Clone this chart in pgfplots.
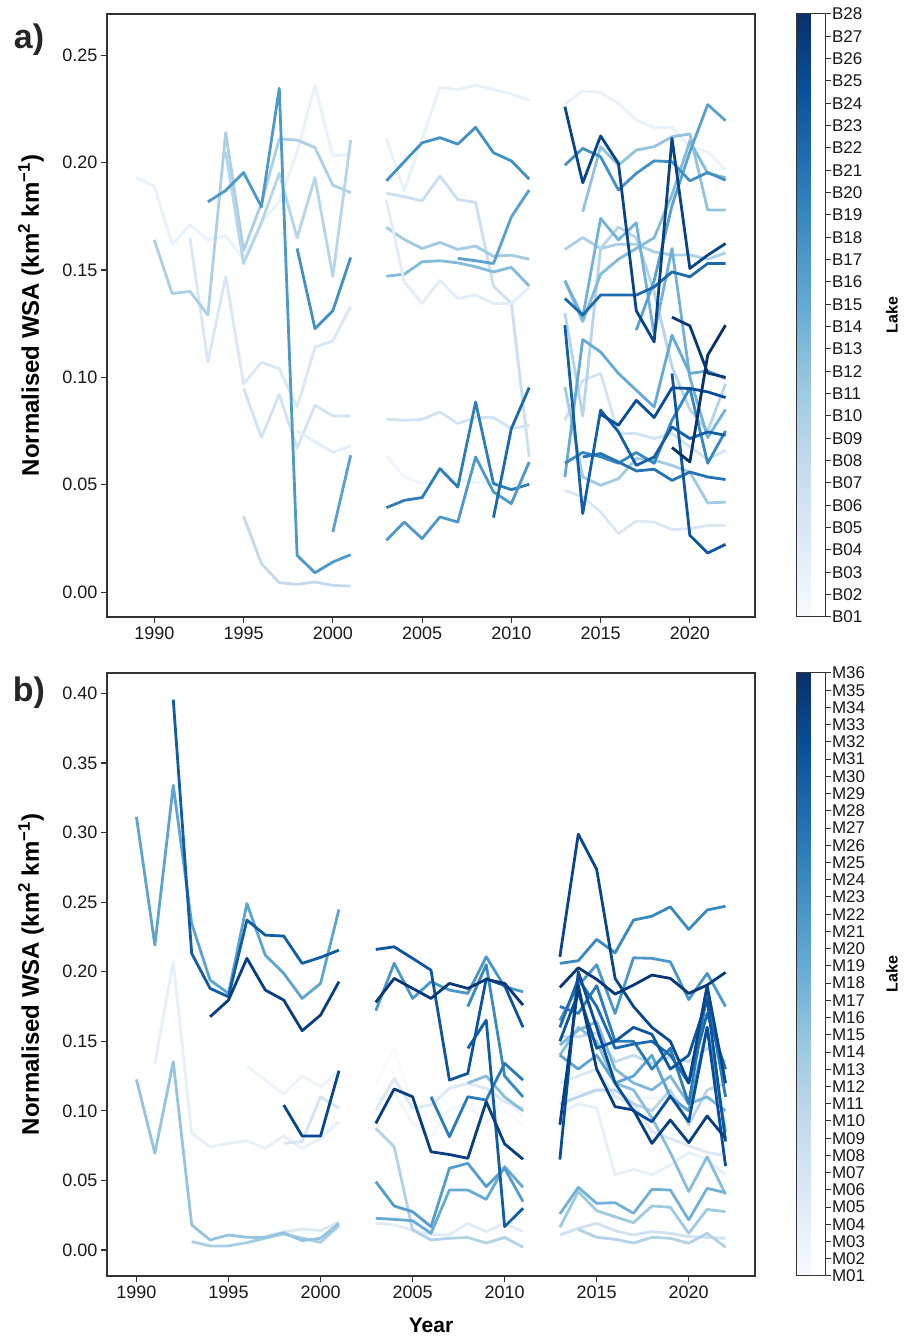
\documentclass[border=0pt]{standalone}
\usepackage{pgfplots}
\pgfplotsset{compat=1.18}
\usepackage{fontspec}
\setmainfont{Liberation Sans}

\pgfplotsset{
  colormap={Blues}{rgb255=(247,251,255) rgb255=(222,235,247) rgb255=(198,219,239)
    rgb255=(158,202,225) rgb255=(107,174,214) rgb255=(66,146,198)
    rgb255=(33,113,181) rgb255=(8,81,156) rgb255=(8,48,107)},
  lk/.style={color of colormap={#1}, solid, mark=none, line join=round},
  wsa/.style={
    scale only axis, width=648pt, height=603pt, anchor=south west,
    every axis plot/.append style={line width=2.8pt},
    axis line style={black!80, line width=1.2pt},
    tick align=outside, tick pos=left, major tick length=6pt,
    every tick/.style={black!80, line width=1.1pt},
    ticklabel style={font=\fontsize{18}{20}\selectfont, text=black!90},
    /pgf/number format/assume math mode=true,
    xtick={1990,1995,...,2020},
    xticklabel style={/pgf/number format/1000 sep={}},
    yticklabel style={/pgf/number format/.cd, fixed, fixed zerofill, precision=2},
    ylabel={\bfseries Normalised WSA (km\textsuperscript{2} km\textsuperscript{−1})},
    every axis y label/.style={at={(rel axis cs:0,0.5)}, xshift=-76pt, rotate=90,
      anchor=center, font=\fontsize{24}{26}\selectfont},
    colorbar,
    colorbar style={
      at={(parent axis.north east)}, anchor=north west, xshift=33pt,
      scale only axis, width=29pt, height=603pt,
      axis line style={black!80, line width=1pt},
      tick align=outside, major tick length=5pt,
      ytick pos=right, yticklabel pos=right, xtick=\empty,
      every tick/.style={black!80, line width=1pt},
      yticklabel style={font=\fontsize{17}{18}\selectfont, text=black!90, xshift=-2pt},
    },
  },
}

\begin{document}
\begin{tikzpicture}
\useasboundingbox (0,0) rectangle (905pt,1340pt);

% ---------------- a) B lakes ----------------
\begin{axis}[wsa, at={(107pt,723pt)},
  xmin=1987.35, xmax=2023.65, ymin=-0.0116, ymax=0.2692,
  ytick={0,0.05,...,0.25},
  point meta min=0, point meta max=27,
  colorbar style={ytick={0,...,27},
    yticklabels={B01,B02,B03,B04,B05,B06,B07,B08,B09,B10,B11,B12,B13,B14,B15,B16,B17,B18,B19,B20,B21,B22,B23,B24,B25,B26,B27,B28}},
]
% 1989-2001
\addplot[lk=74] coordinates {(1989,.193)(1990,.189)(1991,.162)(1992,.171)(1993,.164)(1994,.166)(1995,.155)(1996,.172)(1997,.182)(1998,.205)(1999,.236)(2000,.203)(2001,.204)};
\addplot[lk=148] coordinates {(1992,.165)(1993,.107)(1994,.147)(1995,.097)(1996,.107)(1997,.104)(1998,.086)(1999,.114)(2000,.117)(2001,.133)};
\addplot[lk=185] coordinates {(1995,.095)(1996,.072)(1997,.092)(1998,.067)(1999,.087)(2000,.082)(2001,.082)};
\addplot[lk=111] coordinates {(1998,.075)(1999,.070)(2000,.065)(2001,.068)};
\addplot[lk=333] coordinates {(1990,.164)(1991,.139)(1992,.140)(1993,.129)(1994,.214)(1995,.159)(1996,.181)(1997,.211)(1998,.2105)(1999,.207)(2000,.1895)(2001,.186)};
\addplot[lk=296] coordinates {(1994,.205)(1995,.153)(1996,.172)(1997,.195)(1998,.165)(1999,.193)(2000,.147)(2001,.2105)};
\addplot[lk=259] coordinates {(1995,.0353)(1996,.0132)(1997,.0044)(1998,.0036)(1999,.0047)(2000,.0031)(2001,.0028)};
\addplot[lk=593] coordinates {(1993,.1817)(1994,.187)(1995,.1954)(1996,.1794)(1997,.2346)(1998,.0171)(1999,.009)(2000,.014)(2001,.0174)};
\addplot[lk=630] coordinates {(1998,.16)(1999,.1227)(2000,.131)(2001,.1558)};
\addplot[lk=556] coordinates {(2000,.028)(2001,.0637)};
% 2003-2011
\addplot[lk=74] coordinates {(2003,.211)(2004,.187)(2005,.211)(2006,.235)(2007,.234)(2008,.236)(2009,.234)(2010,.232)(2011,.229)};
\addplot[lk=630] coordinates {(2003,.1915)(2004,.2004)(2005,.2092)(2006,.2116)(2007,.2086)(2008,.2164)(2009,.2046)(2010,.2008)(2011,.1923)};
\addplot[lk=222] coordinates {(2003,.1857)(2004,.1841)(2005,.1822)(2006,.1938)(2007,.1828)(2008,.1815)(2009,.1425)(2010,.1344)(2011,.063)};
\addplot[lk=370] coordinates {(2003,.1698)(2004,.1642)(2005,.16)(2006,.1628)(2007,.1596)(2008,.1611)(2009,.1564)(2010,.1569)(2011,.155)};
\addplot[lk=444] coordinates {(2003,.1471)(2004,.148)(2005,.1538)(2006,.1543)(2007,.1533)(2008,.1515)(2009,.1491)(2010,.1512)(2011,.1425)};
\addplot[lk=556] coordinates {(2007,.1554)(2008,.1543)(2009,.153)(2010,.1747)(2011,.1872)};
\addplot[lk=111] coordinates {(2003,.1825)(2004,.1445)(2005,.1344)(2006,.1452)(2007,.1367)(2008,.1383)(2009,.1344)(2010,.1344)(2011,.1418)};
\addplot[lk=185] coordinates {(2003,.0805)(2004,.08)(2005,.0804)(2006,.0839)(2007,.0785)(2008,.0813)(2009,.0813)(2010,.0761)(2011,.0777)};
\addplot[lk=37] coordinates {(2003,.0637)(2004,.0536)(2005,.0505)(2006,.0545)(2007,.0519)(2008,.051)(2009,.051)(2010,.0495)(2011,.0519)};
\addplot[lk=704] coordinates {(2003,.0393)(2004,.0427)(2005,.044)(2006,.0575)(2007,.0489)(2008,.0885)(2009,.0505)(2010,.0477)(2011,.0502)};
\addplot[lk=593] coordinates {(2003,.0241)(2004,.0326)(2005,.0249)(2006,.035)(2007,.0326)(2008,.0629)(2009,.0466)(2010,.0412)(2011,.0606)};
\addplot[lk=778] coordinates {(2009,.0347)(2010,.0761)(2011,.0952)};
% 2013-2022
\addplot[lk=74] coordinates {(2013,.227)(2014,.2335)(2015,.2325)(2016,.2276)(2017,.2198)(2018,.2164)(2019,.2164)(2020,.2074)(2021,.205)(2022,.1965)};
\addplot[lk=185] coordinates {(2013,.08)(2014,.0986)(2015,.1018)(2016,.0738)(2017,.0738)(2018,.0715)(2019,.0738)(2020,.0676)(2021,.0617)(2022,.066)};
\addplot[lk=148] coordinates {(2013,.0474)(2014,.0443)(2015,.0373)(2016,.0272)(2017,.0331)(2018,.0326)(2019,.0291)(2020,.0295)(2021,.031)(2022,.031)};
\addplot[lk=333] coordinates {(2013,.1596)(2014,.1651)(2015,.16)(2016,.162)(2017,.162)(2018,.1584)(2019,.157)(2020,.157)(2021,.155)(2022,.158)};
\addplot[lk=296] coordinates {(2013,.13)(2014,.082)(2015,.16)(2016,.17)(2017,.165)(2018,.14)(2019,.105)(2020,.085)(2021,.075)(2022,.097)};
\addplot[lk=370] coordinates {(2013,.0955)(2014,.0536)(2015,.0497)(2016,.0528)(2017,.0622)(2018,.0614)(2019,.059)(2020,.0559)(2021,.0415)(2022,.0419)};
\addplot[lk=407] coordinates {(2014,.1771)(2015,.2074)(2016,.1988)(2017,.2058)(2018,.2074)(2019,.212)(2020,.2133)(2021,.1779)(2022,.1779)};
\addplot[lk=444] coordinates {(2013,.145)(2014,.126)(2015,.148)(2016,.155)(2017,.16)(2018,.165)(2019,.185)(2020,.21)(2021,.195)(2022,.193)};
\addplot[lk=481] coordinates {(2013,.145)(2014,.128)(2015,.174)(2016,.164)(2017,.172)(2018,.12)(2019,.16)(2020,.1)(2021,.072)(2022,.085)};
\addplot[lk=519] coordinates {(2013,.0536)(2014,.1176)(2015,.1118)(2016,.1018)(2017,.094)(2018,.0862)(2019,.1196)(2020,.1018)(2021,.103)(2022,.0994)};
\addplot[lk=556] coordinates {(2017,.122)(2018,.145)(2019,.18)(2020,.205)(2021,.227)(2022,.2195)};
\addplot[lk=630] coordinates {(2013,.1988)(2014,.2066)(2015,.2027)(2016,.1872)(2017,.195)(2018,.2008)(2019,.2004)(2020,.1915)(2021,.1954)(2022,.1918)};
\addplot[lk=667] coordinates {(2013,.06)(2014,.065)(2015,.063)(2016,.06)(2017,.065)(2018,.06)(2019,.08)(2020,.095)(2021,.06)(2022,.075)};
\addplot[lk=741] coordinates {(2014,.0629)(2015,.0645)(2016,.0606)(2017,.0564)(2018,.0572)(2019,.052)(2020,.0559)(2021,.0536)(2022,.0524)};
\addplot[lk=778] coordinates {(2013,.1367)(2014,.129)(2015,.1383)(2016,.1383)(2017,.1383)(2018,.1421)(2019,.1491)(2020,.1468)(2021,.153)(2022,.153)};
\addplot[lk=815] coordinates {(2013,.1243)(2014,.0365)(2015,.0847)(2016,.0746)(2017,.059)(2018,.0629)(2019,.0769)(2020,.0715)(2021,.0746)(2022,.073)};
\addplot[lk=852] coordinates {(2019,.1018)(2020,.0264)(2021,.0182)(2022,.0222)};
\addplot[lk=889] coordinates {(2015,.0828)(2016,.0777)(2017,.0893)(2018,.0813)(2019,.0951)(2020,.0948)(2021,.0932)(2022,.0906)};
\addplot[lk=926] coordinates {(2013,.226)(2014,.1906)(2015,.2124)(2016,.1996)(2017,.131)(2018,.1165)(2019,.2113)(2020,.1507)(2021,.1569)(2022,.1623)};
\addplot[lk=963] coordinates {(2019,.128)(2020,.124)(2021,.102)(2022,.100)};
\addplot[lk=1000] coordinates {(2019,.0673)(2020,.0606)(2021,.1103)(2022,.1243)};
\end{axis}

% ---------------- b) M lakes ----------------
\begin{axis}[wsa, at={(107pt,64pt)},
  xmin=1988.4, xmax=2023.6, ymin=-0.0187, ymax=0.4147,
  ytick={0,0.05,...,0.40},
  xlabel={\bfseries Year},
  every axis x label/.style={at={(rel axis cs:0.5,0)}, yshift=-49pt, anchor=center,
    font=\fontsize{21}{23}\selectfont},
  point meta min=0, point meta max=35,
  colorbar style={ytick={0,...,35},
    yticklabels={M01,M02,M03,M04,M05,M06,M07,M08,M09,M10,M11,M12,M13,M14,M15,M16,M17,M18,M19,M20,M21,M22,M23,M24,M25,M26,M27,M28,M29,M30,M31,M32,M33,M34,M35,M36}},
]
% 1990-2001
\addplot[lk=86] coordinates {(1991,.1341)(1992,.2071)(1993,.0838)(1994,.0742)(1995,.0766)(1996,.0785)(1997,.073)(1998,.0819)(1999,.073)(2000,.0802)(2001,.0922)};
\addplot[lk=57] coordinates {(1996,.1322)(1997,.1221)(1998,.1121)(1999,.125)(2000,.1173)(2001,.1288)};
\addplot[lk=143] coordinates {(1996,.005)(1997,.010)(1998,.013)(1999,.015)(2000,.014)(2001,.020)};
\addplot[lk=171] coordinates {(1998,.0766)(1999,.078)(2000,.1101)(2001,.1018)};
\addplot[lk=343] coordinates {(1993,.006)(1994,.0029)(1995,.0029)(1996,.0053)(1997,.0085)(1998,.0115)(1999,.0085)(2000,.0055)(2001,.0175)};
\addplot[lk=400] coordinates {(1990,.1226)(1991,.0695)(1992,.1353)(1993,.018)(1994,.0072)(1995,.0108)(1996,.0091)(1997,.009)(1998,.0124)(1999,.0067)(2000,.0084)(2001,.0192)};
\addplot[lk=543] coordinates {(1990,.3113)(1991,.2191)(1992,.334)(1993,.2347)(1994,.194)(1995,.1844)(1996,.249)(1997,.2119)(1998,.1988)(1999,.1808)(2000,.1916)(2001,.2448)};
\addplot[lk=829] coordinates {(1992,.3956)(1993,.2131)(1994,.188)(1995,.182)(1996,.2371)(1997,.2263)(1998,.2256)(1999,.206)(2000,.2103)(2001,.2155)};
\addplot[lk=914] coordinates {(1998,.1042)(1999,.0819)(2000,.0819)(2001,.1288)};
\addplot[lk=943] coordinates {(1994,.1676)(1995,.1796)(1996,.2096)(1997,.1868)(1998,.1796)(1999,.1576)(2000,.1688)(2001,.1928)};
% 2003-2011
\addplot[lk=0] coordinates {(2003,.12)(2004,.145)(2005,.105)(2006,.095)(2007,.1)(2008,.105)(2009,.1)(2010,.1)(2011,.09)};
\addplot[lk=29] coordinates {(2003,.1078)(2004,.1137)(2005,.091)(2006,.0814)(2007,.1018)(2008,.1042)(2009,.091)(2010,.1101)(2011,.0958)};
\addplot[lk=143] coordinates {(2003,.1006)(2004,.1233)(2005,.1018)(2006,.1042)(2007,.1162)(2008,.1197)(2009,.1162)(2010,.1066)(2011,.1018)};
\addplot[lk=114] coordinates {(2003,.0192)(2004,.018)(2005,.0144)(2006,.011)(2007,.011)(2008,.019)(2009,.0132)(2010,.019)(2011,.0132)};
\addplot[lk=314] coordinates {(2003,.0874)(2004,.0742)(2005,.0144)(2006,.0072)(2007,.0084)(2008,.009)(2009,.005)(2010,.009)(2011,.002)};
\addplot[lk=429] coordinates {(2008,.12)(2009,.125)(2010,.11)(2011,.10)};
\addplot[lk=514] coordinates {(2003,.0228)(2004,.022)(2005,.021)(2006,.012)(2007,.0431)(2008,.0431)(2009,.0364)(2010,.0599)(2011,.045)};
\addplot[lk=571] coordinates {(2003,.0491)(2004,.0316)(2005,.0275)(2006,.0168)(2007,.0587)(2008,.0623)(2009,.0455)(2010,.0587)(2011,.0347)};
\addplot[lk=600] coordinates {(2003,.172)(2004,.206)(2005,.1808)(2006,.1928)(2007,.1868)(2008,.1844)(2009,.2107)(2010,.1892)(2011,.1856)};
\addplot[lk=657] coordinates {(2008,.175)(2009,.205)(2010,.125)(2011,.11)};
\addplot[lk=714] coordinates {(2006,.1101)(2007,.0814)(2008,.1101)(2009,.1078)(2010,.1341)(2011,.1221)};
\addplot[lk=829] coordinates {(2008,.1449)(2009,.1652)(2010,.0168)(2011,.03)};
\addplot[lk=857] coordinates {(2003,.216)(2004,.2179)(2005,.2096)(2006,.2011)(2007,.1221)(2008,.1269)(2009,.195)(2010,.19)(2011,.16)};
\addplot[lk=943] coordinates {(2003,.091)(2004,.1157)(2005,.1101)(2006,.0706)(2007,.0686)(2008,.0659)(2009,.1066)(2010,.0762)(2011,.0652)};
\addplot[lk=971] coordinates {(2003,.178)(2004,.1952)(2005,.188)(2006,.1808)(2007,.1916)(2008,.188)(2009,.1945)(2010,.1916)(2011,.176)};
% 2013-2022
\addplot[lk=29] coordinates {(2013,.1101)(2014,.1125)(2015,.1149)(2016,.1114)(2017,.1101)(2018,.109)(2019,.1101)(2020,.1066)(2021,.108)(2022,.108)};
\addplot[lk=86] coordinates {(2013,.098)(2014,.105)(2015,.102)(2016,.054)(2017,.058)(2018,.054)(2019,.061)(2020,.07)(2021,.065)(2022,.054)};
\addplot[lk=143] coordinates {(2013,.12)(2014,.125)(2015,.13)(2016,.11)(2017,.105)(2018,.085)(2019,.08)(2020,.075)(2021,.07)(2022,.068)};
\addplot[lk=200] coordinates {(2013,.0108)(2014,.0156)(2015,.0192)(2016,.0138)(2017,.0108)(2018,.0132)(2019,.012)(2020,.0096)(2021,.009)(2022,.0084)};
\addplot[lk=257] coordinates {(2013,.1533)(2014,.1533)(2015,.156)(2016,.1353)(2017,.14)(2018,.1341)(2019,.139)(2020,.1353)(2021,.145)(2022,.1353)};
\addplot[lk=286] coordinates {(2013,.105)(2014,.11)(2015,.115)(2016,.115)(2017,.105)(2018,.10)(2019,.115)(2020,.09)(2021,.115)(2022,.12)};
\addplot[lk=314] coordinates {(2014,.0148)(2015,.0091)(2016,.0077)(2017,.005)(2018,.0091)(2019,.0084)(2020,.0048)(2021,.012)(2022,.0019)};
\addplot[lk=371] coordinates {(2013,.0163)(2014,.0419)(2015,.0282)(2016,.0239)(2017,.0196)(2018,.0316)(2019,.0307)(2020,.012)(2021,.0292)(2022,.0275)};
\addplot[lk=429] coordinates {(2013,.14)(2014,.16)(2015,.15)(2016,.12)(2017,.115)(2018,.095)(2019,.07)(2020,.042)(2021,.067)(2022,.04)};
\addplot[lk=457] coordinates {(2013,.1473)(2014,.158)(2015,.164)(2016,.13)(2017,.12)(2018,.115)(2019,.125)(2020,.105)(2021,.11)(2022,.10)};
\addplot[lk=486] coordinates {(2013,.0259)(2014,.045)(2015,.0335)(2016,.034)(2017,.0264)(2018,.0436)(2019,.0431)(2020,.0216)(2021,.0443)(2022,.0412)};
\addplot[lk=543] coordinates {(2013,.14)(2014,.13)(2015,.14)(2016,.12)(2017,.125)(2018,.14)(2019,.11)(2020,.10)(2021,.16)(2022,.085)};
\addplot[lk=600] coordinates {(2013,.165)(2014,.19)(2015,.205)(2016,.17)(2017,.21)(2018,.2096)(2019,.2071)(2020,.18)(2021,.1988)(2022,.175)};
\addplot[lk=657] coordinates {(2013,.206)(2014,.2079)(2015,.2232)(2016,.2136)(2017,.2371)(2018,.2399)(2019,.2466)(2020,.2304)(2021,.2443)(2022,.2471)};
\addplot[lk=714] coordinates {(2013,.175)(2014,.17)(2015,.19)(2016,.15)(2017,.15)(2018,.13)(2019,.145)(2020,.105)(2021,.185)(2022,.11)};
\addplot[lk=771] coordinates {(2013,.16)(2014,.195)(2015,.175)(2016,.145)(2017,.148)(2018,.15)(2019,.14)(2020,.12)(2021,.17)(2022,.13)};
\addplot[lk=857] coordinates {(2013,.15)(2014,.185)(2015,.145)(2016,.15)(2017,.16)(2018,.155)(2019,.13)(2020,.14)(2021,.18)(2022,.078)};
\addplot[lk=886] coordinates {(2013,.065)(2014,.2)(2015,.16)(2016,.12)(2017,.1)(2018,.0922)(2019,.1106)(2020,.0922)(2021,.16)(2022,.0603)};
\addplot[lk=914] coordinates {(2013,.2107)(2014,.2989)(2015,.2735)(2016,.1952)(2017,.175)(2018,.16)(2019,.15)(2020,.12)(2021,.19)(2022,.12)};
\addplot[lk=943] coordinates {(2013,.09)(2014,.19)(2015,.13)(2016,.103)(2017,.1006)(2018,.0766)(2019,.0934)(2020,.0771)(2021,.0963)(2022,.0802)};
\addplot[lk=971] coordinates {(2013,.1887)(2014,.2028)(2015,.1945)(2016,.1839)(2017,.1904)(2018,.1976)(2019,.1952)(2020,.1844)(2021,.1904)(2022,.1995)};
\end{axis}

% panel letters and colorbar titles
\node[font=\fontsize{34}{36}\selectfont\bfseries, text=black!85] at (29pt,1300pt) {a)};
\node[font=\fontsize{34}{36}\selectfont\bfseries, text=black!85] at (29pt,647pt) {b)};
\node[font=\fontsize{16}{18}\selectfont\bfseries, rotate=90] at (892pt,1025pt) {Lake};
\node[font=\fontsize{16}{18}\selectfont\bfseries, rotate=90] at (892pt,366pt) {Lake};
\end{tikzpicture}
\end{document}
